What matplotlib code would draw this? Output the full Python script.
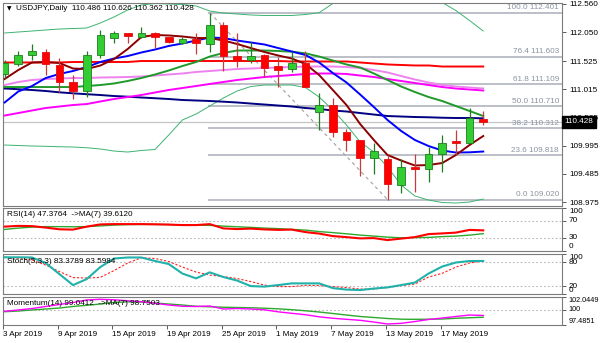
import numpy as np
import pandas as pd
import matplotlib
matplotlib.use("Agg")
import matplotlib.pyplot as plt
import matplotlib.transforms as mtransforms

plt.rcParams['font.family'] = ['Liberation Sans', 'DejaVu Sans']

# ---------------- data ----------------
dates = ['2019-04-03', '2019-04-04', '2019-04-05', '2019-04-08', '2019-04-09', '2019-04-10',
         '2019-04-11', '2019-04-12', '2019-04-15', '2019-04-16', '2019-04-17', '2019-04-18',
         '2019-04-19', '2019-04-22', '2019-04-23', '2019-04-24', '2019-04-25', '2019-04-26',
         '2019-04-29', '2019-04-30', '2019-05-01', '2019-05-02', '2019-05-03', '2019-05-06',
         '2019-05-07', '2019-05-08', '2019-05-09', '2019-05-10', '2019-05-13', '2019-05-14',
         '2019-05-15', '2019-05-16', '2019-05-17', '2019-05-20', '2019-05-21', '2019-05-22']

opens = [111.29, 111.47, 111.63, 111.69, 111.46, 111.14, 110.99, 111.64, 111.94, 112.03,
         111.96, 112.04, 111.96, 111.85, 111.92, 111.83, 112.18, 111.61, 111.54, 111.64,
         111.43, 111.38, 111.50, 110.60, 110.73, 110.24, 110.09, 109.77, 109.75, 109.28,
         109.61, 109.57, 109.84, 110.08, 110.05, 110.486]
highs = [111.55, 111.71, 111.84, 111.74, 111.58, 111.27, 111.71, 112.09, 112.08, 112.04,
         112.15, 112.06, 111.97, 111.96, 112.03, 112.40, 112.24, 112.03, 111.88, 111.66,
         111.60, 111.69, 111.70, 110.95, 110.85, 110.29, 110.10, 110.05, 109.83, 109.75,
         109.84, 109.98, 110.19, 110.28, 110.67, 110.626]
lows = [111.22, 111.44, 111.55, 111.27, 110.97, 110.84, 110.88, 111.59, 111.86, 111.85,
        111.94, 111.76, 111.86, 111.84, 111.65, 111.69, 111.35, 111.42, 111.50, 111.24,
        111.05, 111.33, 111.05, 110.28, 110.16, 109.89, 109.45, 109.48, 109.02, 109.14,
        109.15, 109.34, 109.51, 109.83, 110.04, 110.362]
closes = [111.49, 111.64, 111.70, 111.47, 111.14, 110.99, 111.64, 112.00, 112.03, 111.98,
          112.04, 111.97, 111.88, 111.92, 111.85, 112.18, 111.62, 111.53, 111.62, 111.40,
          111.37, 111.49, 111.06, 110.73, 110.24, 110.10, 109.77, 109.90, 109.30, 109.60,
          109.58, 109.84, 110.04, 110.05, 110.49, 110.428]

ma_maroon = [111.202, 111.365, 111.501, 111.510, 111.492, 111.392, 111.383, 111.446, 111.564,
             111.745, 111.963, 111.999, 111.990, 111.972, 111.944, 111.944, 111.899, 111.836,
             111.763, 111.691, 111.628, 111.573, 111.474, 111.274, 111.003, 110.731, 110.387,
             110.098, 109.826, 109.726, 109.636, 109.645, 109.681, 109.826, 110.007, 110.170]
ma_blue = [110.777, 110.976, 111.075, 111.220, 111.293, 111.347, 111.419, 111.510, 111.573,
           111.618, 111.682, 111.736, 111.800, 111.845, 111.899, 111.953, 111.944, 111.899,
           111.863, 111.827, 111.763, 111.700, 111.637, 111.501, 111.311, 111.139, 110.921,
           110.695, 110.460, 110.261, 110.098, 109.989, 109.907, 109.871, 109.875, 109.889]
ma_green = [111.057, 111.057, 111.057, 111.057, 111.057, 111.057, 111.075, 111.093, 111.121,
            111.166, 111.220, 111.284, 111.356, 111.437, 111.510, 111.609, 111.673, 111.718,
            111.718, 111.718, 111.709, 111.696, 111.667, 111.609, 111.537, 111.465, 111.410,
            111.302, 111.184, 111.066, 110.967, 110.876, 110.804, 110.713, 110.623, 110.532]
ma_red = [111.501, 111.501, 111.501, 111.501, 111.501, 111.510, 111.510, 111.510, 111.510,
          111.510, 111.528, 111.528, 111.528, 111.528, 111.528, 111.528, 111.528, 111.528,
          111.528, 111.528, 111.528, 111.519, 111.519, 111.519, 111.519, 111.519, 111.501,
          111.483, 111.465, 111.456, 111.447, 111.447, 111.428, 111.428, 111.428, 111.428]
ma_violet = [111.093, 111.148, 111.184, 111.202, 111.211, 111.220, 111.220, 111.229, 111.233,
             111.238, 111.247, 111.265, 111.284, 111.302, 111.329, 111.347, 111.365, 111.383,
             111.392, 111.401, 111.410, 111.419, 111.428, 111.428, 111.428, 111.419, 111.401,
             111.365, 111.320, 111.256, 111.193, 111.139, 111.093, 111.066, 111.048, 111.030]
ma_magenta = [110.541, 110.586, 110.632, 110.677, 110.704, 110.731, 110.749, 110.795, 110.840,
              110.876, 110.912, 110.958, 111.003, 111.039, 111.075, 111.112, 111.148, 111.184,
              111.211, 111.238, 111.256, 111.274, 111.293, 111.302, 111.302, 111.293, 111.265,
              111.238, 111.202, 111.166, 111.130, 111.093, 111.057, 111.030, 111.012, 110.994]
ma_navy = [111.030, 111.017, 111.003, 110.985, 110.961, 110.943, 110.927, 110.912, 110.894,
           110.882, 110.867, 110.854, 110.840, 110.822, 110.813, 110.804, 110.791, 110.777,
           110.758, 110.740, 110.722, 110.704, 110.677, 110.659, 110.632, 110.614, 110.586,
           110.559, 110.532, 110.523, 110.514, 110.509, 110.501, 110.496, 110.496, 110.490]
bb_upper = [112.035, 112.053, 112.071, 112.089, 112.107, 112.116, 112.125, 112.216, 112.325,
            112.451, 112.542, 112.569, 112.560, 112.551, 112.524, 112.433, 112.397, 112.379,
            112.361, 112.352, 112.352, 112.352, 112.370, 112.402, 112.569, 112.723, 112.813,
            112.886, 112.922, 112.886, 112.813, 112.705, 112.587, 112.442, 112.261, 112.071]
bb_lower = [110.007, 109.998, 109.989, 109.984, 109.976, 109.971, 109.958, 109.935, 109.898,
            109.880, 109.908, 109.926, 110.188, 110.460, 110.568, 110.713, 110.858, 110.985,
            111.066, 111.093, 111.093, 111.093, 111.048, 110.876, 110.641, 110.369, 110.061,
            109.880, 109.609, 109.283, 109.084, 109.011, 108.966, 108.957, 108.975, 109.029]

fib_pct = [100.0, 76.4, 61.8, 50.0, 38.2, 23.6, 0.0]
fib_price = [112.401, 111.603, 111.109, 110.710, 110.312, 109.818, 109.020]
fib_high_date, fib_low_date = '2019-04-24', '2019-05-13'

price_ticks = [112.560, 112.050, 111.525, 111.015, 110.505, 109.995, 109.485, 108.975]

rsi = [56.2, 57.9, 57.4, 53.9, 49.9, 49.2, 56.2, 61.4, 62.1, 62.1, 62.1, 61.6, 61.0, 59.8,
       59.8, 62.1, 52.0, 50.4, 51.5, 49.6, 48.5, 49.2, 43.3, 39.8, 33.9, 31.5, 28.5, 29.2,
       24.5, 28.0, 31.5, 38.6, 40.2, 42.1, 48.5, 47.3764]
rsi_ma = [49.6, 52.7, 55.1, 56.2, 56.2, 55.8, 56.2, 57.9, 59.8, 61.0, 61.4, 61.4, 61.0, 60.2,
          59.8, 59.1, 57.4, 55.8, 54.4, 52.7, 51.5, 49.6, 48.0, 44.5, 42.1, 39.3, 36.2, 33.9,
          31.5, 29.9, 30.4, 30.8, 32.7, 33.9, 36.2, 39.6120]
stoch_main = [92.7, 92.7, 92.2, 78.2, 50.4, 22.5, 37.7, 68.1, 89.6, 92.2, 92.2, 83.3, 75.7,
              51.6, 39.5, 54.7, 42.8, 33.9, 20.0, 18.7, 22.5, 26.8, 26.8, 26.8, 14.9, 11.1,
              9.9, 13.7, 16.7, 22.5, 28.9, 51.6, 69.4, 79.5, 83.3, 83.3789]
stoch_signal = [92.7, 90.1, 85.8, 73.2, 56.7, 41.5, 40.3, 42.0, 59.2, 78.2, 91.6, 89.6, 82.0,
                68.1, 55.4, 47.8, 44.1, 39.0, 31.4, 22.5, 18.7, 18.7, 21.8, 21.3, 18.7, 16.2,
                12.4, 12.4, 16.7, 21.3, 25.1, 42.8, 52.2, 68.1, 78.2, 83.5984]
momentum = [99.72, 99.93, 100.17, 100.50, 100.82, 101.15, 101.56, 101.67, 101.59, 101.43,
            101.28, 101.02, 100.74, 100.53, 100.50, 100.58, 100.09, 100.17, 100.09, 99.96,
            99.63, 99.39, 99.16, 98.82, 98.58, 98.41, 98.25, 97.97, 97.65, 97.76, 98.05,
            98.38, 98.62, 98.87, 99.11, 99.0412]
momentum_ma = [99.65, 99.76, 99.93, 100.09, 100.25, 100.50, 100.69, 100.90, 101.15, 101.26,
               101.23, 101.07, 100.90, 100.74, 100.53, 100.45, 100.38, 100.33, 100.29, 100.22,
               100.12, 99.98, 99.80, 99.60, 99.36, 99.11, 98.87, 98.71, 98.54, 98.43, 98.41,
               98.43, 98.46, 98.58, 98.67, 98.7503]
mom_range = (97.4851, 102.0449)

label_dates = ['2019-04-03', '2019-04-09', '2019-04-15', '2019-04-19', '2019-04-25',
               '2019-05-01', '2019-05-07', '2019-05-13', '2019-05-17']

# ---------------- layout ----------------
W, H = 600, 343
FS = 5.9
FRAME = '#7c7c7c'
LEVEL = '#b8b8b8'

fig = plt.figure(figsize=(W / 100, H / 100), dpi=100)
fig.patch.set_facecolor('white')


def box(x0, y0, x1, y1):
    return [x0 / W, 1 - y1 / H, (x1 - x0) / W, (y1 - y0) / H]


ax = fig.add_axes(box(3, 3, 562, 206))
ax_rsi = fig.add_axes(box(3, 208, 562, 250.5), sharex=ax)
ax_sto = fig.add_axes(box(3, 254.4, 562, 294), sharex=ax)
ax_mom = fig.add_axes(box(3, 297, 562, 325), sharex=ax)

n = len(closes)
xs = np.arange(n)
pos = {d: i for i, d in enumerate(dates)}

for a in (ax, ax_rsi, ax_sto, ax_mom):
    for s in a.spines.values():
        s.set_color(FRAME)
        s.set_linewidth(0.8)
    a.yaxis.tick_right()
    a.tick_params(axis='y', labelsize=FS, length=3, width=0.6, pad=2,
                  color='#404040', labelcolor='black')
    a.tick_params(axis='x', bottom=False, labelbottom=False)
    a.set_facecolor('white')

ax.set_xlim(-0.07, 40.76)

# ---------------- main price panel ----------------
ax.set_ylim(108.903, 112.578)
ax.set_yticks(price_ticks)
ax.set_yticklabels([f"{v:.3f}" for v in price_ticks])

# bid line at the last close
ax.axhline(closes[-1], color='#c4c4c4', lw=0.9, zorder=1)

# Fibonacci retracement
fx0 = pos[fib_high_date] - 0.15
for pct, lvl in zip(fib_pct, fib_price):
    ax.hlines(lvl, fx0, 40.76, color='#a9aeb8', lw=1.1, zorder=1)
    ax.annotate(f"{pct:.1f} {lvl:.3f}", xy=(0.9946, lvl),
                xycoords=mtransforms.blended_transform_factory(ax.transAxes, ax.transData),
                xytext=(0, 1.5), textcoords='offset pixels',
                ha='right', va='bottom', fontsize=FS, color='#8a93a2', zorder=2)
ax.plot([pos[fib_high_date], pos[fib_low_date]], [fib_price[0], fib_price[-1]],
        color='#a0a0a0', lw=0.8, ls=(0, (3, 3)), zorder=1)

# moving averages and bands
ax.plot(xs, bb_upper, color='#3cb371', lw=0.7, zorder=2)
ax.plot(xs, bb_lower, color='#3cb371', lw=0.7, zorder=2)
ax.plot(xs, ma_navy, color='#000080', lw=1.4, zorder=3)
ax.plot(xs, ma_magenta, color='#ff00ff', lw=1.4, zorder=3)
ax.plot(xs, ma_violet, color='#ee82ee', lw=1.4, zorder=3)
ax.plot(xs, ma_red, color='#ff0000', lw=1.4, zorder=3)
ax.plot(xs, ma_green, color='#1f9a2a', lw=1.4, zorder=3)
ax.plot(xs, ma_blue, color='#0000ff', lw=1.4, zorder=3)
ax.plot(xs, ma_maroon, color='#8b0000', lw=1.4, zorder=3)

# candles
o = np.array(opens)
c = np.array(closes)
up = c >= o
wick_col = np.where(up, '#1e7d1e', '#c43c3c')
body_col = np.where(up, '#32cd32', '#ff0000')
edge_col = np.where(up, '#1e7d1e', '#e01010')
ax.vlines(xs, lows, highs, colors=wick_col, lw=0.9, zorder=5)
body_bot = np.minimum(o, c)
body_h = np.maximum(np.abs(c - o), 0.006)
ax.bar(xs, body_h, bottom=body_bot, width=0.56, color=body_col,
       edgecolor=edge_col, linewidth=0.6, zorder=6)

# chart caption
ax.annotate('\u25BC', xy=(0, 1), xycoords='axes fraction', xytext=(3.5, -3.5),
            textcoords='offset pixels', fontsize=4.2, va='top', ha='left',
            family='DejaVu Sans', color='black', zorder=10)
ax.annotate('USDJPY,Daily  ' + ' '.join(f"{v:.3f}" for v in
            (opens[-1], highs[-1], lows[-1], closes[-1])),
            xy=(0, 1), xycoords='axes fraction', xytext=(12.5, -2.5),
            textcoords='offset pixels', fontsize=FS, va='top', ha='left',
            color='black', zorder=10)

# current price marker on the scale
ax.annotate(f"{closes[-1]:.3f}", xy=(1, closes[-1]),
            xycoords=mtransforms.blended_transform_factory(ax.transAxes, ax.transData),
            xytext=(2.5, 0), textcoords='offset pixels', ha='left', va='center',
            fontsize=FS, color='white', annotation_clip=False, zorder=20,
            bbox=dict(boxstyle='square,pad=0.28', fc='black', ec='black'))


def label_align(a, aligns):
    for lab, va in zip(a.get_yticklabels(), aligns):
        lab.set_verticalalignment(va)


def panel_title(a, text):
    a.annotate(text, xy=(0, 1), xycoords='axes fraction', xytext=(4, -3.3),
               textcoords='offset pixels', fontsize=FS, va='top', ha='left',
               color='black', zorder=10)


# ---------------- RSI ----------------
ax_rsi.set_ylim(0, 100)
for lv in (70, 30):
    ax_rsi.axhline(lv, color=LEVEL, lw=0.8, ls=(0, (1.5, 2)), zorder=1)
ax_rsi.plot(xs, rsi_ma, color='#2ea82e', lw=1.0, zorder=3)
ax_rsi.plot(xs, rsi, color='#ff0000', lw=1.5, zorder=4)
ax_rsi.set_yticks([100, 70, 30, 0])
ax_rsi.set_yticklabels(['100', '70', '30', '0'])
label_align(ax_rsi, ['top', 'center', 'center', 'bottom'])
panel_title(ax_rsi, f"RSI(14) {rsi[-1]:.4f}  ->MA(7) {rsi_ma[-1]:.4f}")

# ---------------- Stochastic ----------------
ax_sto.set_ylim(0, 100)
for lv in (80, 20):
    ax_sto.axhline(lv, color=LEVEL, lw=0.8, ls=(0, (1.5, 2)), zorder=1)
ax_sto.plot(xs, stoch_signal, color='#ff2020', lw=0.8, ls=(0, (2, 1.6)), zorder=3)
ax_sto.plot(xs, stoch_main, color='#20b2aa', lw=1.5, zorder=4)
ax_sto.set_yticks([100, 80, 20, 0])
ax_sto.set_yticklabels(['100', '80', '20', '0'])
label_align(ax_sto, ['top', 'center', 'center', 'bottom'])
panel_title(ax_sto, f"Stoch(5,3,3) {stoch_main[-1]:.4f} {stoch_signal[-1]:.4f}")

# ---------------- Momentum ----------------
ax_mom.set_ylim(*mom_range)
ax_mom.axhline(100, color=LEVEL, lw=0.8, ls=(0, (1.5, 2)), zorder=1)
ax_mom.plot(xs, momentum_ma, color='#2ea82e', lw=1.0, zorder=3)
ax_mom.plot(xs, momentum, color='#ff00ff', lw=1.0, zorder=4)
ax_mom.set_yticks([mom_range[1], 100, mom_range[0]])
ax_mom.set_yticklabels([f"{mom_range[1]:.4f}", '100', f"{mom_range[0]:.4f}"])
ax_mom.tick_params(axis='y', labelsize=5.2, pad=1.5)
label_align(ax_mom, ['top', 'center', 'bottom'])
panel_title(ax_mom, f"Momentum(14) {momentum[-1]:.4f}  ->MA(7) {momentum_ma[-1]:.4f}")

# date scale
tick_pos = [pos[d] - 0.12 for d in label_dates]
tick_lab = [pd.Timestamp(d).strftime('%d %b %Y').lstrip('0') for d in label_dates]
ax_mom.set_xticks(tick_pos)
ax_mom.set_xticklabels(tick_lab)
ax_mom.tick_params(axis='x', bottom=True, labelbottom=True, length=3, width=0.6,
                   pad=1.5, labelsize=FS, color='#404040')
for lab in ax_mom.get_xticklabels():
    lab.set_horizontalalignment('left')

fig.savefig('out.png', dpi=100)
